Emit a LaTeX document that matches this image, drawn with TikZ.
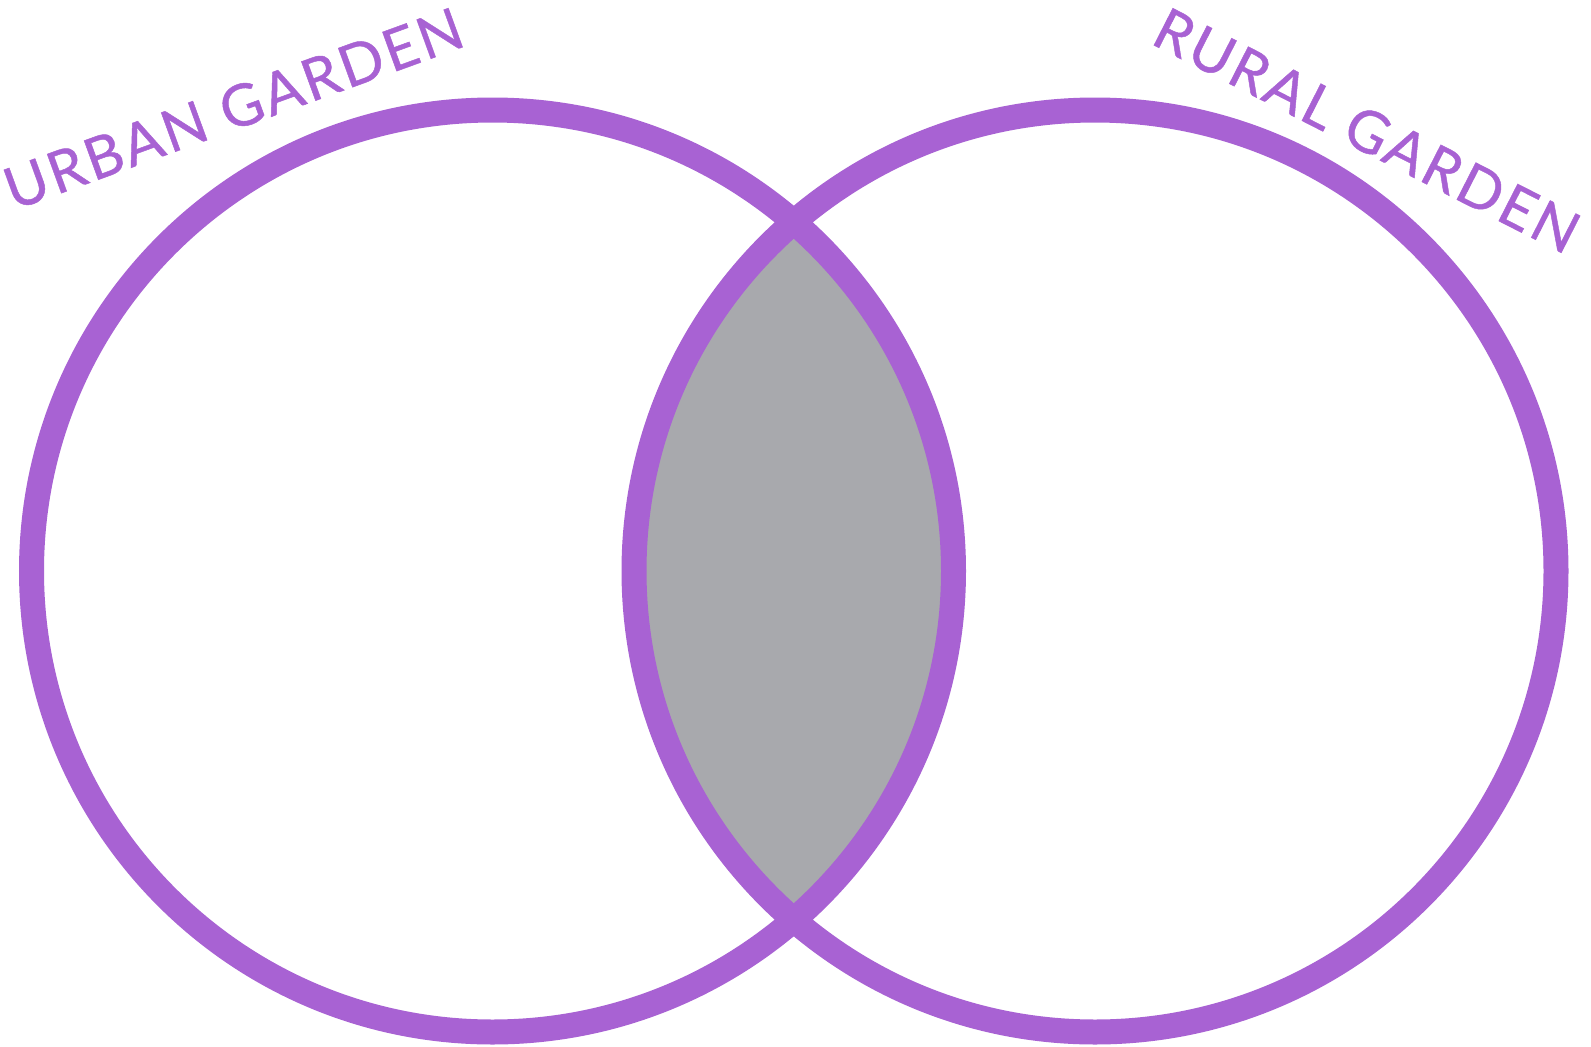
\documentclass[tikz,border=0pt]{standalone}
\usepackage{fontspec}
\setmainfont{Lato}
\newfontfamily\gardenfont{Lato}[LetterSpace=5, FakeBold=0.8]
\usepackage{tikz}
\definecolor{gardenpurple}{RGB}{168, 98, 211}
\definecolor{overlapgray}{RGB}{168, 169, 173}

\begin{document}
\begin{tikzpicture}[x=1pt, y=-1pt,
    ring/.style={draw=gardenpurple, line width=25pt},
    setlabel/.style={gardenpurple, inner sep=0pt, anchor=base, font=\gardenfont\fontsize{58}{60}\selectfont}]
    \useasboundingbox (0,0) rectangle (1591,1047);
    % Overlap of the two gardens
    \begin{scope}
        \clip (492.5,571) circle (461);
        \fill[overlapgray] (1095,571) circle (461);
    \end{scope}
    % Gardens
    \draw[ring] (492.5,571) circle (461);
    \draw[ring] (1095,571) circle (461);
    % Labels
    \node[setlabel, rotate=20] (urbanlabel) at (240.5,128) {URBAN GARDEN};
    \node[setlabel, rotate=-27] (rurallabel) at (1357.5,149) {RURAL GARDEN};
\end{tikzpicture}
\end{document}
